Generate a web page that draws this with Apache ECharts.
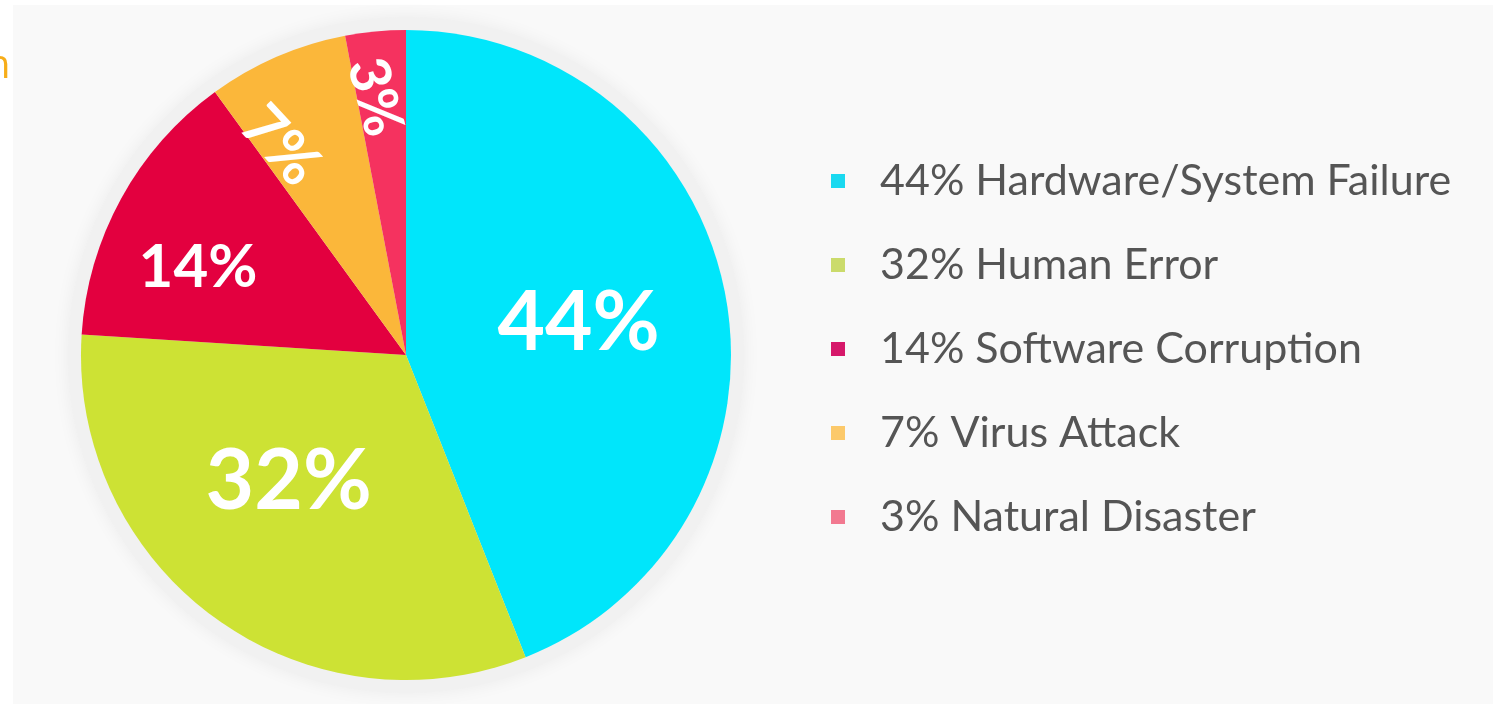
<!DOCTYPE html>
<html>
<head>
<meta charset="utf-8">
<script src="https://cdn.jsdelivr.net/npm/echarts@6/dist/echarts.min.js"></script>
<style>
html,body{margin:0;padding:0;background:#ffffff;}
#chart{width:1493px;height:704px;}
</style>
</head>
<body>
<div id="chart"></div>
<script>
const categories = ['Hardware/System Failure', 'Human Error', 'Software Corruption', 'Virus Attack', 'Natural Disaster'];
const values = [44, 32, 14, 7, 3];
const sliceColors = ['#00e6fb', '#cde234', '#e3003f', '#fbb73a', '#f5325f'];
const legendColors = ['#1ad9f0', '#cbdb6b', '#d6186a', '#fcc96a', '#f27990'];
const labelSizes = [82, 84, 60, 60, 56];
const labelRotate = [0, 0, 0, -47, -75];
const labelShift = [[10, 0], [-20, -7], [-63, -8], [-83, 5], [-94, -9]];

const chart = echarts.init(document.getElementById('chart'));
chart.setOption({
  backgroundColor: '#ffffff',
  animation: false,
  graphic: [
    { type: 'rect', z: -10, shape: { x: 13, y: 5, width: 1480, height: 699 }, style: { fill: '#f9f9f9' } },
    { type: 'text', left: -14, top: 47, style: { text: 'n', fill: '#f7ad19', font: '40px "Open Sans"' } }
  ],
  legend: {
    orient: 'vertical',
    left: 826,
    top: 151,
    icon: 'rect',
    itemWidth: 14,
    itemHeight: 14,
    itemGap: 34,
    selectedMode: false,
    textStyle: { fontFamily: 'Lato', fontSize: 43, color: '#555555', lineHeight: 50, padding: [0, 0, 0, 30] },
    formatter: function (name) {
      const i = categories.indexOf(name);
      return values[i] + '% ' + name;
    },
    data: categories.map((c, i) => ({ name: c, itemStyle: { color: legendColors[i] } }))
  },
  series: [
    {
      type: 'pie',
      silent: true,
      center: [406, 355],
      radius: 338,
      z: 1,
      label: { show: false },
      labelLine: { show: false },
      itemStyle: { color: '#f1f1f1', shadowBlur: 18, shadowColor: 'rgba(0,0,0,0.06)' },
      data: [{ name: 'bg', value: 1 }]
    },
    {
      type: 'pie',
      center: [406, 355],
      radius: 325,
      startAngle: 90,
      clockwise: true,
      z: 2,
      label: {
        show: true,
        position: 'inside',
        color: '#ffffff',
        fontFamily: 'Lato',
        fontWeight: 'bold',
        formatter: '{c}%'
      },
      labelLine: { show: false },
      labelLayout: function (params) {
        const s = labelShift[params.dataIndex];
        return { dx: s[0], dy: s[1] };
      },
      data: categories.map((c, i) => ({
        name: c,
        value: values[i],
        itemStyle: { color: sliceColors[i] },
        label: { fontSize: labelSizes[i], rotate: labelRotate[i] }
      }))
    }
  ]
});
</script>
</body>
</html>
